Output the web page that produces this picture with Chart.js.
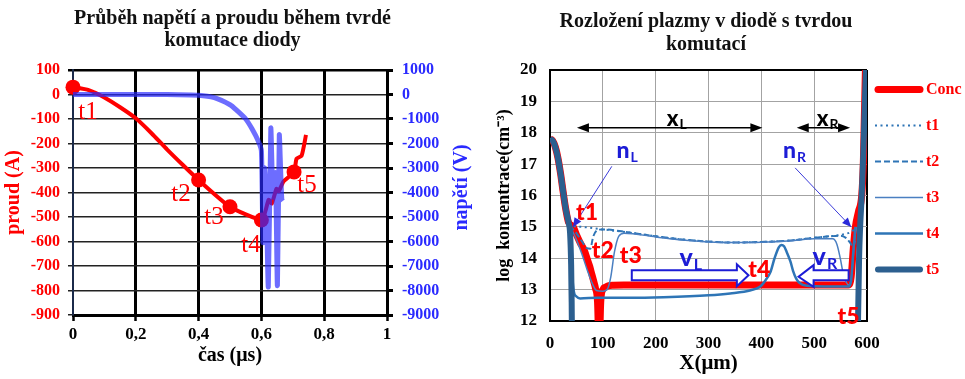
<!DOCTYPE html>
<html lang="cs">
<head>
<meta charset="utf-8">
<title>Tvrdá komutace diody</title>
<script src="https://cdn.jsdelivr.net/npm/chart.js@4.4.1/dist/chart.umd.min.js"></script>
<style>
  html, body { margin: 0; padding: 0; background: #fff; }
  .panel { position: absolute; top: 0; height: 379px; }
  #left { left: 0; width: 480px; }
  #right { left: 480px; width: 485px; }
</style>
</head>
<body>
<div class="panel" id="left"><canvas id="commutChart"></canvas></div>
<div class="panel" id="right"><canvas id="plasmaChart"></canvas></div>
<script>
// ---- Waveforms during hard commutation (left panel) ----
const timeUs   = [0, 0.05, 0.1, 0.15, 0.2, 0.25, 0.3, 0.35, 0.4, 0.5, 0.6, 0.613, 0.623, 0.633, 0.648, 0.655, 0.67, 0.704, 0.712, 0.728, 0.742];
const currentA = [30, 18, -12, -52, -97, -158, -225, -288, -349, -458, -512, -475, -430, -445, -385, -395, -356, -316, -262, -250, -165];
const stageTimes = [0, 0.4, 0.5, 0.6, 0.704];   // t1..t5 marked on the current curve

const voltTimeUs = [0, 0.1, 0.2, 0.3, 0.4, 0.45, 0.5, 0.52, 0.55, 0.57, 0.59, 0.6, 0.605, 0.61, 0.615, 0.622, 0.63, 0.635, 0.64, 0.645, 0.651, 0.657, 0.661, 0.665, 0.668];
const voltageV   = [0, 0, 0, 0, -30, -130, -420, -630, -1000, -1400, -1900, -2300, -6050, -3000, -4000, -7850, -1380, -3500, -4200, -3200, -7800, -1650, -3000, -4300, -4350];

// ---- Plasma distribution across the diode (right panel), log10 concentration ----
const concX = [0, 5, 10, 15, 20, 25, 30, 35, 44, 50, 57, 65, 70, 75, 79, 83, 86, 90, 93, 96, 100, 105, 110, 120, 140, 200, 300, 400, 500, 550, 565, 570, 574, 578, 584, 590, 593, 595, 597];
const concY = [17.8, 17.75, 17.55, 17.2, 16.7, 16.1, 15.55, 15.15, 15.0, 14.75, 14.5, 14.25, 14.0, 13.75, 13.5, 13.25, 13.05, 12.6, 11.0, 12.6, 13.0, 13.08, 13.12, 13.14, 13.15, 13.15, 13.15, 13.15, 13.15, 13.15, 13.15, 13.4, 14.3, 15.0, 15.5, 16.0, 17.0, 18.5, 20.0];

const t1X = [0, 5, 10, 15, 20, 25, 30, 35, 40, 60, 100, 150, 200, 250, 300, 350, 400, 450, 500, 530, 560, 570, 578];
const t1Y = [17.8, 17.75, 17.55, 17.2, 16.7, 16.1, 15.55, 15.15, 15.05, 15.0, 14.92, 14.82, 14.7, 14.6, 14.53, 14.5, 14.52, 14.56, 14.65, 14.7, 14.78, 14.84, 14.95];

const t2X = [0, 5, 10, 15, 20, 25, 30, 35, 40, 50, 60, 70, 76, 82, 90, 100, 150, 200, 250, 300, 350, 400, 450, 500, 530, 550, 560, 568, 574, 578];
const t2Y = [17.8, 17.75, 17.55, 17.2, 16.7, 16.1, 15.55, 15.15, 15.0, 14.8, 14.55, 14.32, 14.3, 14.7, 14.9, 14.92, 14.82, 14.7, 14.6, 14.53, 14.5, 14.52, 14.56, 14.65, 14.7, 14.72, 14.65, 14.5, 14.35, 14.6];

const t3X = [0, 5, 10, 15, 20, 25, 30, 35, 40, 50, 60, 70, 80, 88, 100, 108, 115, 122, 130, 140, 200, 250, 300, 350, 400, 450, 500, 535, 543, 550, 555, 560, 566, 572, 576, 580];
const t3Y = [17.8, 17.75, 17.55, 17.2, 16.7, 16.1, 15.55, 15.15, 14.95, 14.6, 14.15, 13.65, 13.2, 12.97, 12.95, 13.0, 13.4, 14.2, 14.7, 14.8, 14.68, 14.58, 14.52, 14.5, 14.51, 14.55, 14.62, 14.62, 14.45, 13.95, 13.5, 13.25, 13.15, 13.6, 14.5, 15.0];

const t4X = [0, 5, 10, 15, 20, 25, 30, 35, 38, 40, 42, 45, 50, 57, 90, 150, 215, 300, 341, 380, 398, 408, 417, 425, 433, 438, 443, 448, 455, 460, 466, 472, 486, 520, 565, 570, 574, 578];
const t4Y = [17.8, 17.75, 17.55, 17.2, 16.7, 16.1, 15.55, 15.15, 15.0, 14.4, 13.5, 12.95, 12.78, 12.72, 12.74, 12.74, 12.76, 12.82, 12.88, 12.98, 13.1, 13.3, 13.55, 14.0, 14.35, 14.42, 14.38, 14.2, 13.9, 13.6, 13.35, 13.22, 13.12, 13.1, 13.1, 13.3, 14.2, 15.0];

const t5X = [0, 5, 10, 15, 20, 25, 30, 35, 38, 40, 41, 42, 100, 560, 580, 583, 585, 587, 590, 593, 596, 598, 600];
const t5Y = [17.8, 17.75, 17.55, 17.2, 16.7, 16.1, 15.55, 15.15, 14.8, 13.8, 12.6, 11.0, 9, 9, 10.5, 12.0, 14.0, 15.0, 16.0, 17.3, 19.0, 20.0, 21];

const SERIF = "'Liberation Serif', 'Times New Roman', serif";
const SANS = "Lato, 'Liberation Sans', Arial, sans-serif";
const RED = '#ff0000';
const NOTE_BLUE = '#1c1cd6';

const toPoints = (xs, ys) => xs.map((v, i) => ({ x: v, y: ys[i] }));

function drawTitleLines(ctx, lines, cx, baselines) {
  ctx.save();
  ctx.font = `bold 20px ${SERIF}`;
  ctx.fillStyle = '#111';
  ctx.textAlign = 'center';
  ctx.textBaseline = 'alphabetic';
  lines.forEach((t, i) => ctx.fillText(t, cx, baselines[i]));
  ctx.restore();
}

function drawSubscripted(ctx, main, sub, x, y, color, size) {
  ctx.save();
  ctx.fillStyle = color;
  ctx.textAlign = 'left';
  ctx.textBaseline = 'alphabetic';
  ctx.font = `900 ${size}px ${SANS}`;
  ctx.fillText(main, x, y);
  const w = ctx.measureText(main).width;
  ctx.font = `bold ${Math.round(size * 0.62)}px ${SANS}`;
  ctx.fillText(sub, x + w + 1, y + size * 0.16);
  ctx.restore();
}

function arrowHead(ctx, x1, y1, x2, y2, len, half) {
  const a = Math.atan2(y2 - y1, x2 - x1);
  const bx = x2 - len * Math.cos(a), by = y2 - len * Math.sin(a);
  ctx.beginPath();
  ctx.moveTo(x2, y2);
  ctx.lineTo(bx + half * Math.sin(a), by - half * Math.cos(a));
  ctx.lineTo(bx - half * Math.sin(a), by + half * Math.cos(a));
  ctx.closePath();
  ctx.fill();
}

// ---------- Left chart ----------
const stageNotes = [
  { text: 't1', x: 0.048, y: -75 },
  { text: 't2', x: 0.344, y: -406 },
  { text: 't3', x: 0.449, y: -500 },
  { text: 't4', x: 0.567, y: -618 },
  { text: 't5', x: 0.745, y: -373 }
];

const commutationDecor = {
  id: 'commutationDecor',
  afterDatasetsDraw(chart) {
    const { ctx, scales: { x, y } } = chart;
    ctx.save();
    ctx.font = `25px ${SERIF}`;
    ctx.fillStyle = RED;
    ctx.textAlign = 'center';
    ctx.textBaseline = 'middle';
    stageNotes.forEach(n => ctx.fillText(n.text, x.getPixelForValue(n.x), y.getPixelForValue(n.y)));
    ctx.restore();
  },
  afterDraw(chart) {
    const { ctx, chartArea } = chart;
    drawTitleLines(ctx, ['Průběh napětí a proudu během tvrdé', 'komutace diody'], 232.5, [23.5, 46]);
    // voltage axis title, reads bottom-to-top like the current one
    ctx.save();
    ctx.translate(462, (chartArea.top + chartArea.bottom) / 2 - 5);
    ctx.rotate(-Math.PI / 2);
    ctx.font = `bold 20px ${SERIF}`;
    ctx.fillStyle = '#2a2aff';
    ctx.textAlign = 'center';
    ctx.textBaseline = 'middle';
    ctx.fillText('napětí (V)', 0, 0);
    ctx.restore();
  }
};

new Chart(document.getElementById('commutChart'), {
  type: 'line',
  data: {
    datasets: [
      {
        label: 'proud',
        data: toPoints(timeUs, currentA),
        yAxisID: 'y',
        borderColor: RED,
        backgroundColor: RED,
        borderWidth: 4,
        tension: 0.2,
        pointRadius: c => stageTimes.includes(timeUs[c.dataIndex]) ? 7.5 : 0,
        pointBorderWidth: 0,
        clip: false,
        order: 2
      },
      {
        label: 'napětí',
        data: toPoints(voltTimeUs, voltageV),
        yAxisID: 'y2',
        borderColor: 'rgba(40, 40, 255, 0.68)',
        borderWidth: 5,
        tension: 0.2,
        pointRadius: 0,
        order: 1
      }
    ]
  },
  options: {
    responsive: true,
    maintainAspectRatio: false,
    animation: false,
    layout: { padding: { top: 70, left: 0, right: 0, bottom: 0 } },
    plugins: { legend: { display: false }, tooltip: { enabled: false } },
    scales: {
      x: {
        type: 'linear', min: 0, max: 1,
        ticks: {
          stepSize: 0.2, color: '#000', padding: 3,
          font: { family: SERIF, size: 17, weight: 'bold' },
          callback: v => String(Math.round(v * 10) / 10).replace('.', ',')
        },
        grid: {
          color: c => (c.tick && c.tick.value === 0 ? 'rgba(0,0,0,0)' : '#000'),
          lineWidth: 3,
          tickLength: 6, tickWidth: 2.5, tickColor: '#000'
        },
        border: { color: '#000', width: 3 },
        title: {
          display: true, text: 'čas (μs)', color: '#000',
          font: { family: SERIF, size: 20, weight: 'bold' },
          padding: { top: 0, bottom: 11 }
        },
        afterFit: s => { s.height = 64; }
      },
      y: {
        position: 'left', min: -900, max: 100,
        ticks: {
          stepSize: 100, color: RED, padding: 8,
          font: { family: SERIF, size: 16, weight: 'bold' },
          callback: v => String(v)
        },
        grid: {
          color: c => (c.tick && c.tick.value === 100 ? '#000' : '#222'),
          lineWidth: c => (c.tick && c.tick.value === 100 ? 2.5 : 1.5),
          tickLength: 5
        },
        border: { color: '#1b2a4a', width: 2 },
        title: {
          display: true, text: 'proud (A)', color: RED,
          font: { family: SERIF, size: 20, weight: 'bold' },
          padding: { top: 2, bottom: 0 }
        },
        afterFit: s => { s.width = 73; }
      },
      y2: {
        position: 'right', min: -9000, max: 1000,
        ticks: {
          stepSize: 1000, color: '#2a2aff', padding: 9,
          font: { family: SERIF, size: 16, weight: 'bold' },
          callback: v => String(v)
        },
        grid: { drawOnChartArea: false, tickLength: 6, tickWidth: 3, tickColor: '#000' },
        border: { color: '#000', width: 3 },
        afterFit: s => { s.width = 93; }
      }
    }
  },
  plugins: [commutationDecor]
});

// ---------- Right chart ----------
const redNotes = [
  { text: 't1', x: 70, y: 15.45 },
  { text: 't2', x: 100, y: 14.23 },
  { text: 't3', x: 153, y: 14.07 },
  { text: 't4', x: 396, y: 13.65 },
  { text: 't5', x: 565, y: 12.15 }
];
const spanArrows = [
  { main: 'x', sub: 'L', from: 51, to: 402, y: 18.16, labelX: 221, labelY: 18.22 },
  { main: 'x', sub: 'R', from: 467, to: 568, y: 18.16, labelX: 505, labelY: 18.22 }
];
const pointerNotes = [
  { main: 'n', sub: 'L', labelX: 126, labelY: 17.2, from: [117, 16.93], to: [43.6, 15.0] },
  { main: 'n', sub: 'R', labelX: 441, labelY: 17.2, from: [464, 16.88], to: [570, 15.0] }
];
const frontArrows = [
  { main: 'v', sub: 'L', labelX: 245, labelY: 13.75, tail: 154.8, base: 353.7, tip: 375.7, bodyTop: 13.62, bodyBot: 13.30, headTop: 13.81, headBot: 13.11, tipY: 13.46 },
  { main: 'v', sub: 'R', labelX: 497, labelY: 13.78, tail: 565.2, base: 498.9, tip: 470.5, bodyTop: 13.62, bodyBot: 13.30, headTop: 13.78, headBot: 13.09, tipY: 13.41 }
];

const plasmaDecor = {
  id: 'plasmaDecor',
  afterDatasetsDraw(chart) {
    const { ctx, scales: { x, y } } = chart;
    const px = v => x.getPixelForValue(v);
    const py = v => y.getPixelForValue(v);

    // extent of the plasma regions
    ctx.save();
    ctx.strokeStyle = '#000';
    ctx.fillStyle = '#000';
    ctx.lineWidth = 1.5;
    spanArrows.forEach(a => {
      const x1 = px(a.from), x2 = px(a.to), yy = py(a.y);
      ctx.beginPath();
      ctx.moveTo(x1 + 6, yy);
      ctx.lineTo(x2 - 6, yy);
      ctx.stroke();
      arrowHead(ctx, x2, yy, x1, yy, 12, 4.5);
      arrowHead(ctx, x1, yy, x2, yy, 12, 4.5);
      drawSubscripted(ctx, a.main, a.sub, px(a.labelX), py(a.labelY), '#000', 22);
    });
    ctx.restore();

    // carrier concentration at the plasma edges
    ctx.save();
    ctx.strokeStyle = '#3b3bd9';
    ctx.fillStyle = '#2a2ad9';
    ctx.lineWidth = 1;
    pointerNotes.forEach(p => {
      const x1 = px(p.from[0]), y1 = py(p.from[1]), x2 = px(p.to[0]), y2 = py(p.to[1]);
      ctx.beginPath();
      ctx.moveTo(x1, y1);
      ctx.lineTo(x2, y2);
      ctx.stroke();
      arrowHead(ctx, x1, y1, x2, y2, 9, 4);
      drawSubscripted(ctx, p.main, p.sub, px(p.labelX), py(p.labelY), NOTE_BLUE, 23);
    });
    ctx.restore();

    // velocity of the plasma fronts
    ctx.save();
    ctx.strokeStyle = NOTE_BLUE;
    ctx.fillStyle = '#fff';
    ctx.lineWidth = 2;
    frontArrows.forEach(f => {
      ctx.beginPath();
      ctx.moveTo(px(f.tail), py(f.bodyTop));
      ctx.lineTo(px(f.base), py(f.bodyTop));
      ctx.lineTo(px(f.base), py(f.headTop));
      ctx.lineTo(px(f.tip), py(f.tipY));
      ctx.lineTo(px(f.base), py(f.headBot));
      ctx.lineTo(px(f.base), py(f.bodyBot));
      ctx.lineTo(px(f.tail), py(f.bodyBot));
      ctx.closePath();
      ctx.fill();
      ctx.stroke();
      drawSubscripted(ctx, f.main, f.sub, px(f.labelX), py(f.labelY), NOTE_BLUE, 25);
    });
    ctx.restore();

    ctx.save();
    ctx.font = `900 23px ${SANS}`;
    ctx.fillStyle = RED;
    ctx.textAlign = 'center';
    ctx.textBaseline = 'middle';
    redNotes.forEach(n => ctx.fillText(n.text, px(n.x), py(n.y)));
    ctx.restore();
  },
  afterDraw(chart) {
    const { ctx, chartArea } = chart;
    drawTitleLines(ctx, ['Rozložení plazmy v diodě s tvrdou', 'komutací'], 226, [26.5, 49.5]);

    // legend: line samples with the series styles
    ctx.save();
    const x0 = chartArea.right + 8, x1 = x0 + 48;
    chart.data.datasets.forEach((ds, i) => {
      const yy = chartArea.top + 19.5 + i * 36;
      ctx.strokeStyle = ds.borderColor;
      ctx.lineWidth = ds.borderWidth;
      ctx.setLineDash(ds.borderDash || []);
      ctx.lineCap = ds.borderWidth >= 5 ? 'round' : 'butt';
      ctx.beginPath();
      ctx.moveTo(x0 + (ds.borderWidth >= 5 ? 3 : 0), yy);
      ctx.lineTo(x1 - (ds.borderWidth >= 5 ? 3 : 0), yy);
      ctx.stroke();
      ctx.setLineDash([]);
      ctx.font = `bold 16px ${SERIF}`;
      ctx.fillStyle = RED;
      ctx.textAlign = 'left';
      ctx.textBaseline = 'middle';
      ctx.fillText(ds.label, x1 + 3, yy);
    });
    ctx.restore();
  }
};

const lineBase = { pointRadius: 0, cubicInterpolationMode: 'monotone', clip: 0 };

new Chart(document.getElementById('plasmaChart'), {
  type: 'line',
  data: {
    datasets: [
      { ...lineBase, label: 'Conc', data: toPoints(concX, concY), borderColor: '#ff0000', borderWidth: 7, order: 6 },
      { ...lineBase, label: 't1', data: toPoints(t1X, t1Y), borderColor: '#2e75b6', borderWidth: 2, borderDash: [2, 3.5], order: 5 },
      { ...lineBase, label: 't2', data: toPoints(t2X, t2Y), borderColor: '#2e75b6', borderWidth: 2, borderDash: [6, 3], order: 4 },
      { ...lineBase, label: 't3', data: toPoints(t3X, t3Y), borderColor: '#4a7fc1', borderWidth: 1.5, order: 3 },
      { ...lineBase, label: 't4', data: toPoints(t4X, t4Y), borderColor: '#2e75b6', borderWidth: 2.5, order: 2 },
      { ...lineBase, label: 't5', data: toPoints(t5X, t5Y), borderColor: '#2c5f8f', borderWidth: 6, order: 1 }
    ]
  },
  options: {
    responsive: true,
    maintainAspectRatio: false,
    animation: false,
    layout: { padding: { top: 70, left: 0, right: 98, bottom: 0 } },
    plugins: { legend: { display: false }, tooltip: { enabled: false } },
    scales: {
      x: {
        type: 'linear', min: 0, max: 600,
        ticks: {
          stepSize: 100, color: '#000', padding: 12,
          font: { family: SERIF, size: 17, weight: 'bold' }
        },
        grid: {
          drawTicks: false,
          color: c => (c.tick && c.tick.value === 600 ? '#000' : '#a3a3a3'),
          lineWidth: c => (c.tick && c.tick.value === 600 ? 2 : 1)
        },
        border: { color: '#000', width: 2 },
        title: {
          display: true, text: 'X(μm)', color: '#000',
          font: { family: SERIF, size: 21, weight: 'bold' },
          padding: { top: 0, bottom: 3 }
        },
        afterFit: s => { s.height = 58; }
      },
      y: {
        min: 12, max: 20,
        ticks: {
          stepSize: 1, color: '#000', padding: 13,
          font: { family: SERIF, size: 17, weight: 'bold' }
        },
        grid: {
          drawTicks: false,
          color: c => (c.tick && c.tick.value === 20 ? '#000' : '#a3a3a3'),
          lineWidth: c => (c.tick && c.tick.value === 20 ? 2 : 1)
        },
        border: { color: '#000', width: 2 },
        title: {
          display: true, text: 'log  koncentrace(cm⁻³)', color: '#000',
          font: { family: SERIF, size: 18, weight: 'bold' },
          padding: { top: 14, bottom: 0 }
        },
        afterFit: s => { s.width = 70; }
      }
    }
  },
  plugins: [plasmaDecor]
});
</script>
</body>
</html>
